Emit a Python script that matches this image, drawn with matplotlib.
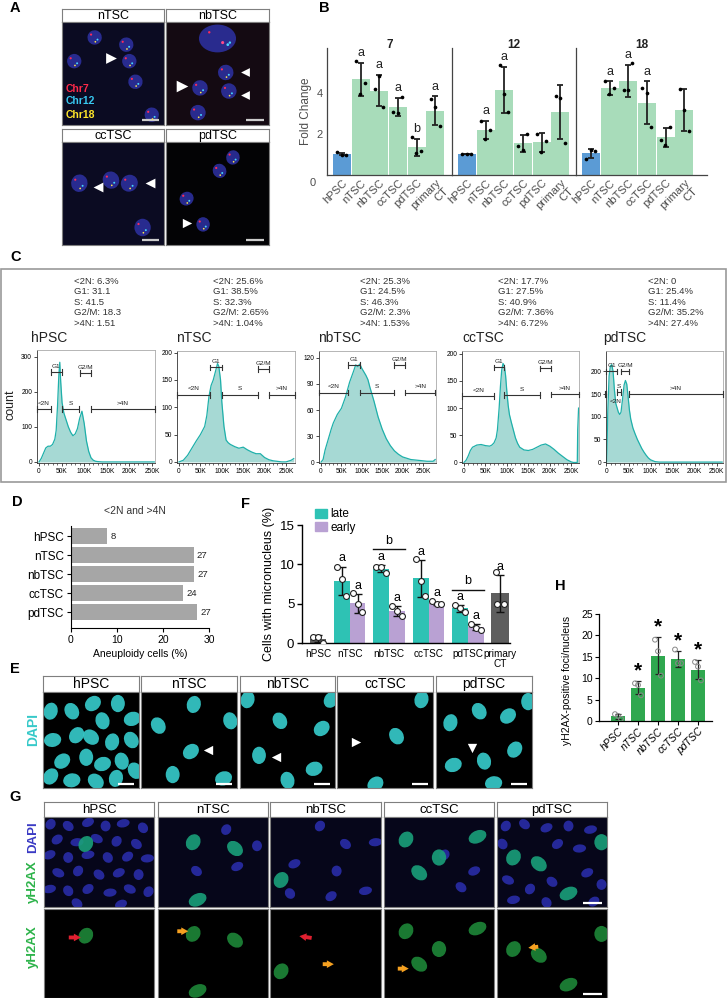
import numpy as np
import matplotlib
matplotlib.use("Agg")
import matplotlib.pyplot as plt
from matplotlib.patches import Ellipse, Rectangle, Patch

plt.rcParams['font.family'] = ['Liberation Sans', 'DejaVu Sans']

W, H = 727, 998
fig = plt.figure(figsize=(W / 100, H / 100), dpi=100)
fig.patch.set_facecolor('white')

# ---------------- data ----------------
# Panel B: FISH fold change per chromosome
b_cells = ["hPSC", "nTSC", "nbTSC", "ccTSC", "pdTSC", "primary\nCT"]
b_chroms = ["7", "12", "18"]
b_chr7 = [[1.10, 1.00, 0.98], [5.55, 3.94, 4.50], [4.22, 4.82, 3.31],
          [3.06, 3.05, 3.82], [1.84, 1.08, 1.16], [3.73, 3.32, 2.37]]
b_chr12 = [[1.04, 1.03, 1.03], [2.66, 1.77, 2.21], [5.35, 3.97, 3.10],
           [1.44, 1.21, 2.00], [2.00, 1.11, 1.66], [3.87, 3.77, 1.56]]
b_chr18 = [[0.79, 1.21, 1.16], [4.58, 3.94, 4.23], [4.15, 4.15, 5.48],
           [4.23, 4.02, 2.32], [1.73, 1.45, 2.34], [4.19, 3.18, 2.13]]
b_sig7 = ["", "a", "a", "a", "b", "a"]
b_sig12 = ["", "a", "a", "", "", ""]
b_sig18 = ["", "a", "a", "a", "", ""]

# Panel C: cell-cycle stats and DNA-content histograms
c_samples = ["hPSC", "nTSC", "nbTSC", "ccTSC", "pdTSC"]
c_lt2n = ["6.3%", "25.6%", "25.3%", "17.7%", "0"]
c_g1 = ["31.1", "38.5%", "24.5%", "27.5%", "25.4%"]
c_s = ["41.5", "32.3%", "46.3%", "40.9%", "11.4%"]
c_g2m = ["18.3", "2.65%", "2.3%", "7.36%", "35.2%"]
c_gt4n = ["1.51", "1.04%", "1.53%", "6.72%", "27.4%"]

hpsc_x = [0, 5, 10, 15, 20, 25, 30, 35, 38, 41, 44, 46, 48, 51, 55, 60, 65, 70, 75, 80, 85, 90, 95,
          100, 105, 110, 115, 120, 125, 130, 140, 160, 200, 255]
hpsc_y = [0, 10, 25, 40, 45, 45, 50, 65, 90, 160, 250, 285, 230, 170, 140, 120, 100, 85, 75, 80, 95, 125, 145,
          110, 60, 30, 12, 5, 2, 1, 0, 0, 0, 0]
ntsc_x = [0, 10, 20, 30, 40, 50, 60, 65, 70, 75, 80, 85, 90, 93, 97, 100, 105, 110, 115, 120, 130, 140, 150,
          160, 170, 180, 190, 200, 210, 220, 230, 240, 250, 262, 268]
ntsc_y = [0, 3, 12, 25, 38, 50, 65, 85, 120, 140, 150, 165, 180, 175, 150, 110, 65, 40, 35, 32, 28, 25, 27,
          22, 18, 15, 15, 8, 4, 2, 1, 0, 0, 3, 6]
nbtsc_x = [0, 5, 10, 15, 20, 25, 30, 40, 50, 60, 70, 80, 85, 90, 95, 100, 105, 110, 115, 120, 130, 140, 150,
           160, 170, 180, 190, 200, 220, 240, 260, 275, 280]
nbtsc_y = [0, 3, 14, 22, 30, 38, 45, 55, 62, 75, 92, 105, 112, 110, 113, 108, 104, 100, 95, 86, 70, 52, 38,
           27, 19, 13, 9, 6, 3, 2, 1, 1, 3]
cctsc_x = [0, 5, 10, 15, 20, 30, 40, 50, 60, 65, 70, 75, 78, 82, 85, 88, 91, 94, 97, 100, 103, 106, 110, 115,
           120, 125, 130, 140, 150, 160, 170, 180, 190, 200, 210, 220, 230, 240, 250, 255, 264, 265, 267]
cctsc_y = [0, 4, 12, 22, 28, 32, 33, 31, 30, 32, 36, 45, 60, 100, 140, 170, 182, 178, 160, 130, 105, 88, 75, 60,
           45, 35, 28, 23, 22, 24, 28, 32, 34, 30, 24, 17, 11, 5, 1, 0, 0, 60, 100]
pdtsc_x = [0, 1, 3, 6, 9, 12, 15, 18, 21, 24, 27, 30, 33, 36, 40, 43, 46, 49, 52, 55, 60, 65, 70, 75, 80, 85,
           90, 95, 100, 105, 110, 120, 150, 200, 262]
pdtsc_y = [0, 20, 110, 190, 212, 215, 200, 160, 130, 120, 110, 105, 110, 135, 170, 180, 172, 145, 115, 95, 75,
           62, 50, 40, 30, 22, 15, 9, 5, 3, 1, 0, 0, 0, 0]

hpsc_gates = [("<2N", -4, 26, 151), ("G1", 26, 51, 257), ("S", 51, 89, 151), ("G2/M", 91, 115, 254), (">4N", 115, 256, 151)]
ntsc_gates = [("<2N", -5, 72, 123), ("G1", 72, 100, 173), ("S", 100, 185, 123), ("G2/M", 185, 210, 170), (">4N", 210, 270, 123)]
nbtsc_gates = [("<2N", -5, 66, 80), ("G1", 66, 95, 112), ("S", 95, 178, 80), ("G2/M", 180, 207, 112), (">4N", 207, 280, 80)]
cctsc_gates = [("<2N", -4, 70, 122), ("G1", 70, 93, 175), ("S", 93, 178, 124), ("G2/M", 178, 202, 173), (">4N", 202, 268, 125)]
pdtsc_gates = [("G1", 0, 23, 200), ("S", 23, 34, 154), ("G2/M", 34, 50, 200), (">4N", 50, 263, 150), ("", -4, 0, 150)]

# Panel F: micronucleus
f_groups = ["hPSC", "nTSC", "nbTSC", "ccTSC", "pdTSC", "primary\nCT"]
f_hpsc = [0.80, 0.75, 0.00]
f_late = [[9.6, 8.1, 6.0], [9.7, 9.7, 8.9], [10.7, 7.9, 6.0], [4.8, 4.4, 4.0]]
f_early = [[6.3, 4.9, 3.9], [4.7, 4.1, 3.4], [5.3, 5.0, 4.9], [2.4, 1.9, 1.7]]
f_primary = [9.0, 5.0, 4.9]
f_sig_late = ["a", "a", "a", "a"]
f_sig_early = ["a", "a", "a", "a"]
f_sig_primary = "a"
f_b_groups = ["nbTSC", "pdTSC"]

# Panel H: yH2AX foci
h_cells = ["hPSC", "nTSC", "nbTSC", "ccTSC", "pdTSC"]
h_pts = [[1.6, 1.2, 0.5], [8.8, 8.4, 6.0], [19.0, 16.3, 10.6], [16.7, 13.5, 13.5], [13.8, 12.7, 9.5]]
h_sig = ["", "*", "*", "*", "*"]


# ---------------- helpers ----------------
def axpx(x0, y0, x1, y1):
    return fig.add_axes([x0 / W, 1 - y1 / H, (x1 - x0) / W, (y1 - y0) / H])


def ftext(x, y, s, **kw):
    fig.text(x / W, 1 - y / H, s, **kw)


def panel_letter(x, y, s):
    ftext(x, y, s, fontsize=10.5, fontweight='bold', ha='center', va='center')


def image_panel(x0, x1, yh0, yh1, yi1, title, bg, tsize=9.5):
    if title is not None:
        hx = axpx(x0, yh0, x1, yh1)
        hx.set_xticks([]); hx.set_yticks([])
        for s in hx.spines.values():
            s.set_color('#7f7f7f'); s.set_linewidth(0.8)
        hx.text(0.5, 0.47, title, ha='center', va='center', fontsize=tsize, transform=hx.transAxes)
    ax = axpx(x0, yh1, x1, yi1)
    ax.set_facecolor(bg)
    ax.set_xlim(0, 1); ax.set_ylim(1, 0)
    ax.set_xticks([]); ax.set_yticks([])
    for s in ax.spines.values():
        s.set_color('#7f7f7f'); s.set_linewidth(0.8)
    return ax


ANG = [15, -30, 50, 0, 70, -15, 35, 80, -50]


def nuclei(ax, pts, color, w, h, alpha=1.0, fish=False):
    for i, (x, y) in enumerate(pts):
        ax.add_patch(Ellipse((x, y), w, h, angle=ANG[i % len(ANG)], facecolor=color,
                             alpha=alpha, lw=0))
        if fish:
            ax.scatter([x - 0.25 * w, x + 0.2 * w, x + 0.05 * w],
                       [y - 0.2 * h, y + 0.15 * h, y + 0.3 * h],
                       s=[2.5, 2.0, 1.5], c=['#ff2a5a', '#45d5ff', '#ffe84a'], lw=0, zorder=4)


def scalebar(ax, color='white'):
    ax.plot([0.78, 0.95], [0.955, 0.955], color=color, lw=1.6, solid_capstyle='butt')


def arrowhead(ax, x, y, marker, size=45, color='white'):
    ax.scatter([x], [y], marker=marker, s=size, color=color, lw=0, zorder=6)


def colored_arrow(ax, x0, y0, x1, y1, color):
    ax.annotate('', xy=(x1, y1), xytext=(x0, y0),
                arrowprops=dict(arrowstyle='simple,head_length=0.5,head_width=0.55,tail_width=0.28',
                                color=color, lw=0))


# ---------------- Panel A ----------------
panel_letter(15, 8, "A")
a_n = image_panel(62, 164, 9, 22, 125, "nTSC", '#0b0b22', 9)
nuclei(a_n, [(0.32, 0.15), (0.63, 0.22), (0.12, 0.38), (0.66, 0.38), (0.72, 0.58), (0.88, 0.9)],
       '#2c2f9c', 0.14, 0.14, 0.9, fish=True)
arrowhead(a_n, 0.48, 0.35, '>', 60)
for lbl, col, yy in [("Chr7", '#ff2a4a', 0.65), ("Chr12", '#38c8f0', 0.77), ("Chr18", '#ffe62a', 0.9)]:
    a_n.text(0.04, yy, lbl, color=col, fontsize=7.5, fontweight='bold', va='center')
scalebar(a_n, '#cccccc')

a_nb = image_panel(166, 269, 9, 22, 125, "nbTSC", '#140a12', 9)
a_nb.add_patch(Ellipse((0.5, 0.16), 0.36, 0.27, facecolor='#2c2f9c', lw=0, alpha=0.9))
a_nb.scatter([0.42, 0.55, 0.62, 0.6], [0.1, 0.2, 0.2, 0.22], s=[3, 5, 3, 4],
             c=['#ff2a5a', '#ff4a8a', '#45d5ff', '#45d5ff'], lw=0)
nuclei(a_nb, [(0.58, 0.49), (0.33, 0.64), (0.61, 0.67), (0.31, 0.88)],
       '#2c2f9c', 0.15, 0.15, 0.9, fish=True)
arrowhead(a_nb, 0.77, 0.49, '<', 40)
arrowhead(a_nb, 0.16, 0.62, '>', 70)
arrowhead(a_nb, 0.77, 0.71, '<', 40)
scalebar(a_nb, '#cccccc')

a_cc = image_panel(62, 164, 129, 142, 245, "ccTSC", '#0b0b22', 9)
nuclei(a_cc, [(0.17, 0.4), (0.48, 0.37), (0.66, 0.4), (0.79, 0.83)], '#2c2f9c', 0.16, 0.17, 0.9, fish=True)
arrowhead(a_cc, 0.35, 0.44, '<', 50)
arrowhead(a_cc, 0.86, 0.4, '<', 50)
scalebar(a_cc, '#cccccc')

a_pd = image_panel(166, 269, 129, 142, 245, "pdTSC", '#030305', 9)
nuclei(a_pd, [(0.65, 0.15), (0.52, 0.28), (0.2, 0.55), (0.36, 0.8)], '#2c2f9c', 0.13, 0.14, 0.9, fish=True)
arrowhead(a_pd, 0.2, 0.79, '>', 45)
scalebar(a_pd, '#cccccc')

# ---------------- Panel B ----------------
panel_letter(324, 8, "B")
b_blue = '#5b9bd5'
b_green = '#a8dcba'
b_off = np.array([-0.25, -0.02, 0.22])
b_data = [b_chr7, b_chr12, b_chr18]
b_sigs = [b_sig7, b_sig12, b_sig18]
b_x0 = [327, 452, 576]
b_x1 = [452, 576, 707]
unit = 18.7
for k in range(3):
    ax = axpx(b_x0[k], 48, b_x1[k], 175)
    pts = b_data[k]
    means = np.array([np.mean(p) for p in pts])
    sds = np.array([np.std(p, ddof=1) for p in pts])
    xs = np.arange(len(b_cells))
    cols = [b_blue] + [b_green] * (len(b_cells) - 1)
    ax.bar(xs, means, width=0.96, color=cols, lw=0, zorder=1)
    ax.errorbar(xs, means, yerr=sds, fmt='none', ecolor='#222222', elinewidth=1.3,
                capsize=2.3, capthick=1.3, zorder=3)
    for i, p in enumerate(pts):
        ax.scatter(xs[i] + b_off, p, s=7, color='black', lw=0, zorder=4)
        if b_sigs[k][i]:
            ax.text(xs[i], means[i] + sds[i] + 0.18, b_sigs[k][i], ha='center', va='bottom',
                    fontsize=9, color='#222222')
    ax.set_ylim(0, 6.2)
    ax.set_xlim(-0.8, -0.8 + (b_x1[k] - b_x0[k]) / unit)
    for s in ['top', 'right']:
        ax.spines[s].set_visible(False)
    ax.spines['left'].set_color('#444444'); ax.spines['left'].set_linewidth(0.9)
    ax.spines['bottom'].set_color('#444444'); ax.spines['bottom'].set_linewidth(0.9)
    ax.set_xticks(xs)
    ax.set_xticklabels(b_cells, rotation=45, ha='right', va='top', rotation_mode='anchor',
                       fontsize=8, color='#4d4d4d')
    ax.tick_params(axis='x', length=0, pad=2)
    if k == 0:
        ax.set_yticks([2, 4])
        ax.set_yticklabels(["2", "4"], fontsize=8, color='#4d4d4d')
        ax.tick_params(axis='y', length=0, pad=3)
        ax.set_ylabel("Fold Change", fontsize=8.5, color='#4d4d4d', labelpad=3)
    else:
        ax.set_yticks([])
    ftext((b_x0[k] + b_x1[k]) / 2, 45, b_chroms[k], fontsize=8.5, fontweight='bold',
          ha='center', va='center', color='#222222')
ftext(313, 183, "0", fontsize=8, color='#4d4d4d', ha='center', va='center')

# ---------------- Panel C ----------------
panel_letter(16, 257, "C")
fig.patches.append(Rectangle((1 / W, 1 - 482 / H), 725 / W, 213 / H, transform=fig.transFigure,
                             fill=False, edgecolor='#9a9a9a', lw=1.2))
c_text_x = [74, 213, 360, 498, 648]
for i in range(5):
    lines = ["<2N: " + c_lt2n[i], "G1: " + c_g1[i], "S: " + c_s[i], "G2/M: " + c_g2m[i], ">4N: " + c_gt4n[i]]
    for j, ln in enumerate(lines):
        ftext(c_text_x[i], 281 + 10.6 * j, ln, fontsize=6.8, color='#333333', va='center', ha='left')

hist_fill = '#a6d9d4'
hist_line = '#1fb0aa'
c_specs = [
    (37, 155, 350, hpsc_x, hpsc_y, (-4.4, 256.6), (-3, 320), [0, 100, 200, 300], hpsc_gates, 31),
    (177, 295, 351, ntsc_x, ntsc_y, (-4.7, 271), (-2, 203), [0, 50, 100, 150, 200], ntsc_gates, 176),
    (319, 436, 351, nbtsc_x, nbtsc_y, (-5, 282), (-1, 128), [0, 30, 60, 90, 120], nbtsc_gates, 318),
    (462, 579, 351, cctsc_x, cctsc_y, (-4.5, 268), (-1, 205), [0, 50, 100, 150, 200], cctsc_gates, 462),
    (606, 723, 351, pdtsc_x, pdtsc_y, (-1, 264), (-2, 245), [0, 50, 100, 150, 200], pdtsc_gates, 603),
]
for i, (x0, x1, y0, hx, hy, xl, yl, yt, gates, tx) in enumerate(c_specs):
    ax = axpx(x0, y0, x1, 463)
    ax.fill_between(hx, hy, color=hist_fill, lw=0, zorder=1)
    ax.plot(hx, hy, color=hist_line, lw=0.9, zorder=2)
    ax.set_xlim(*xl); ax.set_ylim(*yl)
    for s in ['top', 'right']:
        ax.spines[s].set_color('#aaaaaa'); ax.spines[s].set_linewidth(0.6)
    for s in ['left', 'bottom']:
        ax.spines[s].set_color('#333333'); ax.spines[s].set_linewidth(0.6)
    ax.set_yticks(yt)
    ax.set_yticklabels([str(v) for v in yt], fontsize=4.8)
    ax.set_xticks([0, 50, 100, 150, 200, 250])
    ax.set_xticklabels(["0", "50K", "100K", "150K", "200K", "250K"], fontsize=4.8)
    ax.set_xticks(np.arange(0, 260, 10), minor=True)
    ax.tick_params(axis='both', length=2, width=0.5, pad=1.5)
    ax.tick_params(axis='x', which='minor', length=1.2, width=0.4)
    yr = yl[1] - yl[0]
    for (lab, g0, g1, gy) in gates:
        d = 0.025 * yr
        ax.plot([g0, g1], [gy, gy], color='#333333', lw=0.8, clip_on=False, zorder=3)
        ax.plot([g0, g0], [gy - d, gy + d], color='#333333', lw=0.8, clip_on=False, zorder=3)
        ax.plot([g1, g1], [gy - d, gy + d], color='#333333', lw=0.8, clip_on=False, zorder=3)
        if lab:
            ax.text((g0 + g1) / 2, gy + 0.03 * yr, lab, fontsize=4.6, ha='center', va='bottom',
                    color='#222222', zorder=4)
    if c_samples[i] == "pdTSC":
        ax.text(20, 133, "<2N", fontsize=4.6, ha='center', va='center', color='#222222', zorder=4)
    ftext(tx, 338, c_samples[i], fontsize=10, ha='left', va='center', color='#222222')
ftext(11, 405, "count", fontsize=9, rotation=90, ha='center', va='center', color='#222222')

# ---------------- Panel D ----------------
panel_letter(17, 502, "D")
d_vals = [float(a.rstrip('%')) + float(b.rstrip('%')) for a, b in zip(c_lt2n, c_gt4n)]
axd = axpx(71, 526, 209, 628)
axd.barh(np.arange(5), d_vals, height=0.8, color='#a6a6a6', lw=0)
for i, v in enumerate(d_vals):
    axd.text(v + 0.7, i, f"{v:.0f}", va='center', ha='left', fontsize=6.8, color='#222222')
axd.set_ylim(4.84, -0.53)
axd.set_xlim(0, 30)
axd.set_yticks(np.arange(5))
axd.set_yticklabels(c_samples, fontsize=8.5)
axd.set_xticks([0, 10, 20, 30])
axd.set_xticklabels(["0", "10", "20", "30"], fontsize=7.5)
axd.tick_params(length=3, width=0.8, pad=2)
for s in ['top', 'right']:
    axd.spines[s].set_visible(False)
for s in ['left', 'bottom']:
    axd.spines[s].set_linewidth(0.8)
axd.set_xlabel("Aneuploidy cells (%)", fontsize=7.5, labelpad=3)
ftext(135, 511, "<2N and >4N", fontsize=7.5, ha='center', va='center', color='#333333')

# ---------------- Panel F ----------------
panel_letter(245, 504, "F")
axf = axpx(302, 525, 510, 643)
f_pos = [0, 0.8, 1.8, 2.8, 3.8, 4.6]
late_c = '#2ec2b4'
early_c = '#b9a1d3'
grey_c = '#5e5e5e'
bw = 0.4
open_kw = dict(s=18, facecolor='white', edgecolor='#222222', lw=0.8, zorder=5)
err_kw = dict(fmt='none', ecolor='#111111', elinewidth=1.0, capsize=3, capthick=1.0, zorder=4)
off3 = np.array([-0.12, 0.0, 0.12])
# hPSC
m = np.mean(f_hpsc); sd = np.std(f_hpsc, ddof=1)
axf.bar(f_pos[0], m, width=0.38, color=grey_c, lw=0)
axf.errorbar(f_pos[0], m, yerr=sd, **err_kw)
axf.scatter(f_pos[0] + off3, f_hpsc, **open_kw)
for i in range(4):
    p = f_pos[i + 1]
    ml, sl = np.mean(f_late[i]), np.std(f_late[i], ddof=1)
    me, se = np.mean(f_early[i]), np.std(f_early[i], ddof=1)
    axf.bar(p - bw / 2, ml, width=bw, color=late_c, lw=0)
    axf.bar(p + bw / 2, me, width=bw, color=early_c, lw=0)
    axf.errorbar(p - bw / 2, ml, yerr=sl, **err_kw)
    axf.errorbar(p + bw / 2, me, yerr=se, **err_kw)
    axf.scatter(p - bw / 2 + off3, f_late[i], **open_kw)
    axf.scatter(p + bw / 2 + off3, f_early[i], **open_kw)
    axf.text(p - bw / 2, ml + sl + 0.3, f_sig_late[i], ha='center', va='bottom', fontsize=9)
    axf.text(p + bw / 2, me + se + 0.3, f_sig_early[i], ha='center', va='bottom', fontsize=9)
    if f_groups[i + 1] in f_b_groups:
        yb = max(ml + sl, me + se) + 2.0
        axf.plot([p - 0.4, p + 0.4], [yb, yb], color='#111111', lw=1.0)
        axf.text(p, yb + 0.3, "b", ha='center', va='bottom', fontsize=9)
m = np.mean(f_primary); sd = np.std(f_primary, ddof=1)
axf.bar(f_pos[5], m, width=0.46, color=grey_c, lw=0)
axf.errorbar(f_pos[5], m, yerr=sd, **err_kw)
axf.scatter(f_pos[5] + np.array([-0.1, -0.08, 0.1]), f_primary, **open_kw)
axf.text(f_pos[5], m + sd + 0.3, f_sig_primary, ha='center', va='bottom', fontsize=9)
axf.set_ylim(0, 15)
axf.set_xlim(-0.405, 4.86)
axf.set_yticks([0, 5, 10, 15])
axf.set_yticklabels(["0", "5", "10", "15"], fontsize=9.5)
axf.set_xticks(f_pos)
axf.set_xticklabels(f_groups, fontsize=7.2, linespacing=1.1)
axf.tick_params(axis='x', length=0, pad=4)
axf.tick_params(axis='y', length=3.5, width=1.0, pad=2)
for s in ['top', 'right']:
    axf.spines[s].set_visible(False)
for s in ['left', 'bottom']:
    axf.spines[s].set_linewidth(1.0)
axf.set_ylabel("Cells with micronucleus (%)", fontsize=9, labelpad=3)
axf.legend(handles=[Patch(color=late_c, label='late'), Patch(color=early_c, label='early')],
           loc='upper left', bbox_to_anchor=(0.04, 1.18), frameon=False, fontsize=8.5,
           handlelength=1.0, handleheight=0.8, handletextpad=0.3, labelspacing=0.1, borderaxespad=0)

# ---------------- Panel H ----------------
panel_letter(560, 586, "H")
axh = axpx(599, 614, 712, 721)
hx = np.arange(len(h_cells))
h_means = np.array([np.mean(p) for p in h_pts])
h_sds = np.array([np.std(p, ddof=1) for p in h_pts])
axh.bar(hx, h_means, width=0.7, color='#2fa84f', lw=0)
axh.errorbar(hx, h_means, yerr=h_sds, fmt='none', ecolor='#222222', elinewidth=0.9,
             capsize=2.5, capthick=0.9, zorder=4)
for i, p in enumerate(h_pts):
    axh.scatter(hx[i] + np.array([-0.15, 0.0, 0.15]), p, s=12, facecolor='none',
                edgecolor='#888888', lw=0.7, zorder=5)
    if h_sig[i]:
        axh.text(hx[i], h_means[i] + h_sds[i] + 2.4, h_sig[i], ha='center', va='center',
                 fontsize=15, fontweight='bold')
axh.set_ylim(0, 25)
axh.set_xlim(-0.95, 4.7)
axh.set_yticks([0, 5, 10, 15, 20, 25])
axh.set_yticklabels(["0", "5", "10", "15", "20", "25"], fontsize=7.5)
axh.set_xticks(hx)
axh.set_xticklabels(h_cells, rotation=45, ha='right', va='top', rotation_mode='anchor',
                    fontsize=7.5, style='italic')
axh.tick_params(axis='x', length=3, width=0.8, pad=1)
axh.tick_params(axis='y', length=3, width=0.8, pad=1.5)
for s in ['top', 'right']:
    axh.spines[s].set_visible(False)
for s in ['left', 'bottom']:
    axh.spines[s].set_linewidth(0.9)
ftext(567, 680, "yH2AX-positive foci/nucleus", fontsize=7.5, rotation=90, ha='center', va='center')

# ---------------- Panel E ----------------
panel_letter(15, 669, "E")
e_x = [(43, 139), (141, 237), (240, 335), (337, 433), (436, 532)]
cyan = '#36c9c9'
e_nuc = [
    [(0.08, 0.2), (0.3, 0.2), (0.52, 0.12), (0.78, 0.12), (0.93, 0.28), (0.62, 0.3), (0.35, 0.45),
     (0.1, 0.5), (0.5, 0.47), (0.72, 0.52), (0.92, 0.5), (0.2, 0.72), (0.45, 0.68), (0.62, 0.75),
     (0.82, 0.72), (0.08, 0.88), (0.3, 0.92), (0.55, 0.93), (0.76, 0.9), (0.96, 0.82)],
    [(0.55, 0.13), (0.18, 0.35), (0.52, 0.62), (0.33, 0.86), (0.86, 0.9), (0.93, 0.3)],
    [(0.08, 0.08), (0.42, 0.3), (0.86, 0.38), (0.2, 0.66), (0.78, 0.8), (0.5, 0.92), (0.96, 0.08)],
    [(0.88, 0.08), (0.62, 0.46), (0.4, 0.96)],
    [(0.15, 0.32), (0.45, 0.2), (0.75, 0.25), (0.96, 0.1), (0.18, 0.76), (0.5, 0.72), (0.82, 0.6), (0.6, 0.95)],
]
e_arrows = [[], [(0.7, 0.6, '<')], [(0.38, 0.68, '<')], [(0.2, 0.52, '>')], [(0.38, 0.58, 'v')]]
for i, s in enumerate(c_samples):
    ax = image_panel(e_x[i][0], e_x[i][1], 676, 692, 788, s, '#000000', 10)
    nuclei(ax, e_nuc[i], cyan, 0.145, 0.18, 0.92)
    for (ax_, ay_, mk) in e_arrows[i]:
        arrowhead(ax, ax_, ay_, mk, 45)
    scalebar(ax)
ftext(33, 730, "DAPI", fontsize=10, fontweight='bold', color=cyan, rotation=90, ha='center', va='center')

# ---------------- Panel G ----------------
panel_letter(15, 797, "G")
g_x = [(44, 154), (158, 268), (270, 381), (384, 494), (497, 607)]
blue = '#2b2fb0'
g_blue = [
    [(0.06, 0.08), (0.22, 0.1), (0.4, 0.06), (0.56, 0.1), (0.72, 0.07), (0.9, 0.12), (0.12, 0.25),
     (0.3, 0.28), (0.48, 0.24), (0.66, 0.27), (0.84, 0.3), (0.05, 0.42), (0.22, 0.45), (0.4, 0.42),
     (0.58, 0.45), (0.76, 0.44), (0.94, 0.46), (0.13, 0.62), (0.31, 0.6), (0.5, 0.64), (0.68, 0.62),
     (0.86, 0.64), (0.05, 0.8), (0.22, 0.82), (0.4, 0.8), (0.6, 0.84), (0.78, 0.8), (0.95, 0.83),
     (0.3, 0.96), (0.7, 0.97)],
    [(0.62, 0.14), (0.35, 0.6), (0.72, 0.55), (0.9, 0.32)],
    [(0.45, 0.1), (0.68, 0.3), (0.22, 0.52), (0.6, 0.6), (0.86, 0.82), (0.18, 0.85), (0.55, 0.88), (0.95, 0.28)],
    [(0.55, 0.42), (0.7, 0.78), (0.82, 0.6)],
    [(0.08, 0.1), (0.25, 0.08), (0.45, 0.12), (0.65, 0.1), (0.85, 0.14), (0.05, 0.3), (0.55, 0.3),
     (0.75, 0.35), (0.1, 0.7), (0.3, 0.8), (0.5, 0.72), (0.82, 0.62), (0.95, 0.75), (0.15, 0.92),
     (0.45, 0.95), (0.88, 0.94)],
]
g_green = [[(0.38, 0.3)], [(0.32, 0.28), (0.7, 0.35), (0.36, 0.92)], [(0.1, 0.7)],
           [(0.2, 0.25), (0.32, 0.62), (0.85, 0.22), (0.5, 0.45)], [(0.15, 0.45), (0.38, 0.52), (0.65, 0.85), (0.95, 0.28)]]
g_arrows = [[(0.2, 0.32, 0.36, 0.32, '#e02030')],
            [(0.15, 0.25, 0.3, 0.25, '#f5a020')],
            [(0.4, 0.33, 0.24, 0.3, '#e02030'), (0.45, 0.62, 0.6, 0.62, '#f5a020')],
            [(0.1, 0.67, 0.25, 0.67, '#f5a020')],
            [(0.4, 0.42, 0.26, 0.44, '#f5a020')]]
for i, s in enumerate(c_samples):
    ax1 = image_panel(g_x[i][0], g_x[i][1], 802, 817, 907, s, '#06061a', 9.5)
    nuclei(ax1, g_blue[i], blue, 0.09, 0.12, 0.85)
    nuclei(ax1, g_green[i], '#1aa07a', 0.13, 0.18, 0.9)
    ax2 = image_panel(g_x[i][0], g_x[i][1], 0, 0, 0, None, '#000000')
    ax2.set_position([g_x[i][0] / W, 0, (g_x[i][1] - g_x[i][0]) / W, 89 / H])
    nuclei(ax2, g_green[i], '#1f8f3c', 0.13, 0.18, 0.85)
    for (a0, b0, a1, b1, col) in g_arrows[i]:
        colored_arrow(ax2, a0, b0, a1, b1, col)
    if i == 4:
        scalebar(ax1)
        scalebar(ax2)
ftext(33, 882, "yH2AX", fontsize=9.5, fontweight='bold', color='#2db34a', rotation=90, ha='center', va='center')
ftext(33, 837, "DAPI", fontsize=9.5, fontweight='bold', color='#3a3ac4', rotation=90, ha='center', va='center')
ftext(33, 947, "yH2AX", fontsize=9.5, fontweight='bold', color='#2db34a', rotation=90, ha='center', va='center')

fig.savefig("out.png", dpi=100, facecolor='white')
